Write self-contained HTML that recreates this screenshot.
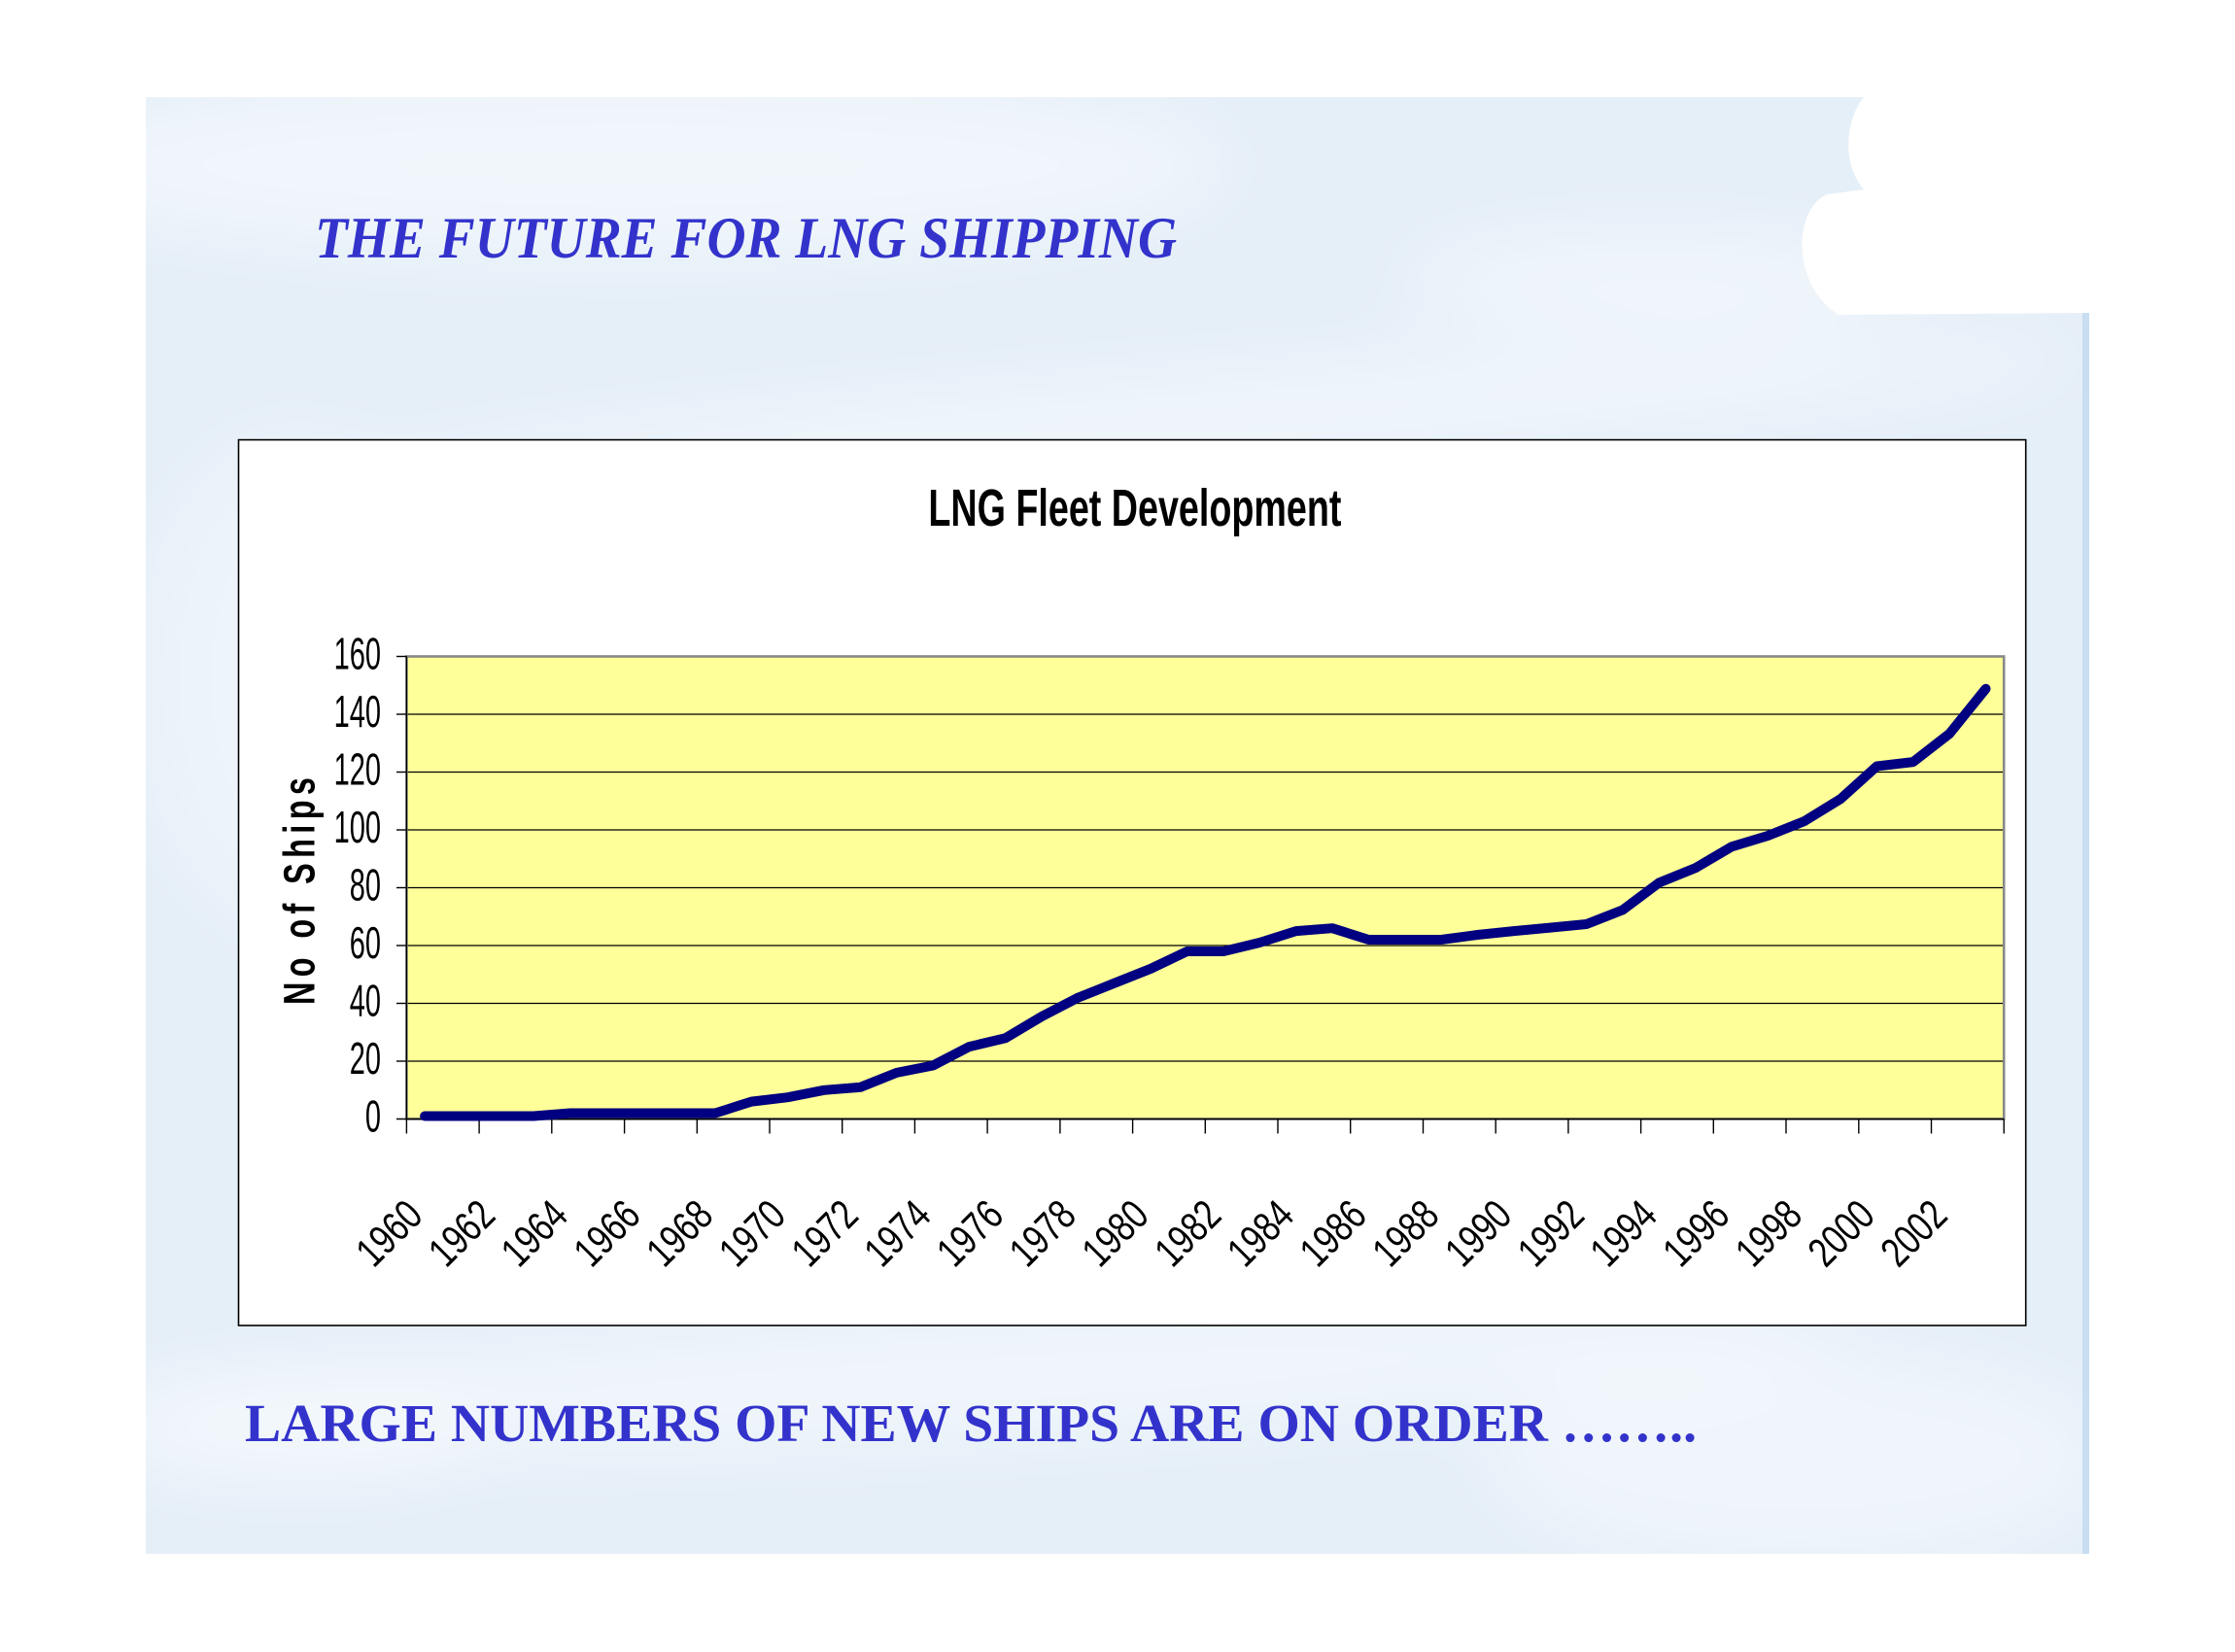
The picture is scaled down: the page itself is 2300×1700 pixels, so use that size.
<!DOCTYPE html>
<html>
<head>
<meta charset="utf-8">
<style>
html,body{margin:0;padding:0;background:#ffffff;}
svg{display:block;}
</style>
</head>
<body>
<svg xmlns="http://www.w3.org/2000/svg" width="2300" height="1700" viewBox="0 0 2300 1700">
  <defs>
    <filter id="blur40" x="-50%" y="-50%" width="200%" height="200%"><feGaussianBlur stdDeviation="40"/></filter>
    <clipPath id="bgclip">
      <path d="M150,100 L1918,100 C1898,125 1896,170 1918,195 L1880,200 C1846,215 1842,292 1892,324 L2150,322 L2150,1599 L150,1599 Z"/>
    </clipPath>
  </defs>

  <!-- page background -->
  <rect x="0" y="0" width="2300" height="1700" fill="#ffffff"/>

  <!-- slide textured background -->
  <g clip-path="url(#bgclip)">
    <rect x="150" y="100" width="2000" height="1500" fill="#e5eff8"/>
    <g filter="url(#blur40)" fill="#ffffff">
      <ellipse cx="650" cy="170" rx="620" ry="95" opacity="0.45"/>
      <ellipse cx="1250" cy="430" rx="900" ry="45" opacity="0.45" transform="rotate(-4 1250 430)"/>
      <ellipse cx="300" cy="700" rx="160" ry="260" opacity="0.3"/>
      <ellipse cx="1000" cy="1420" rx="900" ry="60" opacity="0.45" transform="rotate(-3 1000 1420)"/>
      <ellipse cx="1850" cy="1500" rx="320" ry="110" opacity="0.4"/>
      <ellipse cx="300" cy="1470" rx="200" ry="60" opacity="0.35"/>
      <ellipse cx="1700" cy="290" rx="260" ry="50" opacity="0.45"/>
    </g>
    <rect x="2143" y="322" width="7" height="1277" fill="#c9def1"/>
  </g>

  <!-- heading -->
  <text x="324" y="265" font-family="'Liberation Serif', serif" font-weight="bold" font-style="italic" font-size="60" fill="#3333cc" textLength="887" lengthAdjust="spacingAndGlyphs">THE FUTURE FOR LNG SHIPPING</text>

  <!-- chart box -->
  <rect x="245.5" y="452.6" width="1839.2" height="911.4" fill="#ffffff" stroke="#000000" stroke-width="1.6"/>

  <!-- chart title -->
  <text x="955.4" y="541" font-family="'Liberation Sans', Arial, sans-serif" font-weight="bold" font-size="54" fill="#000000" textLength="425" lengthAdjust="spacingAndGlyphs">LNG Fleet Development</text>

  <!-- plot area -->
  <rect x="418.4" y="675.5" width="1643.8" height="476" fill="#ffff99"/>

  <!-- gridlines -->
  <g stroke="#000000" stroke-width="1.3">
    <line x1="418.4" y1="735" x2="2062.2" y2="735"/>
    <line x1="418.4" y1="794.5" x2="2062.2" y2="794.5"/>
    <line x1="418.4" y1="854" x2="2062.2" y2="854"/>
    <line x1="418.4" y1="913.5" x2="2062.2" y2="913.5"/>
    <line x1="418.4" y1="973" x2="2062.2" y2="973"/>
    <line x1="418.4" y1="1032.5" x2="2062.2" y2="1032.5"/>
    <line x1="418.4" y1="1092" x2="2062.2" y2="1092"/>
  </g>

  <!-- plot border (gray) -->
  <rect x="418.4" y="675.5" width="1643.8" height="476" fill="none" stroke="#888888" stroke-width="2.6"/>

  <!-- axes -->
  <g stroke="#000000" stroke-width="1.4">
    <line x1="418.4" y1="675.5" x2="418.4" y2="1152"/>
    <line x1="408" y1="1151.5" x2="2062.2" y2="1151.5"/>
    <line x1="408" y1="675.5" x2="418.4" y2="675.5"/>
    <line x1="408" y1="735" x2="418.4" y2="735"/>
    <line x1="408" y1="794.5" x2="418.4" y2="794.5"/>
    <line x1="408" y1="854" x2="418.4" y2="854"/>
    <line x1="408" y1="913.5" x2="418.4" y2="913.5"/>
    <line x1="408" y1="973" x2="418.4" y2="973"/>
    <line x1="408" y1="1032.5" x2="418.4" y2="1032.5"/>
    <line x1="408" y1="1092" x2="418.4" y2="1092"/>
  </g>
  <!-- x ticks -->
  <g stroke="#000000" stroke-width="1.4">
    <line x1="418.4" y1="1151.5" x2="418.4" y2="1166.5"/>
    <line x1="493.1" y1="1151.5" x2="493.1" y2="1166.5"/>
    <line x1="567.8" y1="1151.5" x2="567.8" y2="1166.5"/>
    <line x1="642.6" y1="1151.5" x2="642.6" y2="1166.5"/>
    <line x1="717.3" y1="1151.5" x2="717.3" y2="1166.5"/>
    <line x1="792.0" y1="1151.5" x2="792.0" y2="1166.5"/>
    <line x1="866.7" y1="1151.5" x2="866.7" y2="1166.5"/>
    <line x1="941.4" y1="1151.5" x2="941.4" y2="1166.5"/>
    <line x1="1016.1" y1="1151.5" x2="1016.1" y2="1166.5"/>
    <line x1="1090.9" y1="1151.5" x2="1090.9" y2="1166.5"/>
    <line x1="1165.6" y1="1151.5" x2="1165.6" y2="1166.5"/>
    <line x1="1240.3" y1="1151.5" x2="1240.3" y2="1166.5"/>
    <line x1="1315.0" y1="1151.5" x2="1315.0" y2="1166.5"/>
    <line x1="1389.7" y1="1151.5" x2="1389.7" y2="1166.5"/>
    <line x1="1464.5" y1="1151.5" x2="1464.5" y2="1166.5"/>
    <line x1="1539.2" y1="1151.5" x2="1539.2" y2="1166.5"/>
    <line x1="1613.9" y1="1151.5" x2="1613.9" y2="1166.5"/>
    <line x1="1688.6" y1="1151.5" x2="1688.6" y2="1166.5"/>
    <line x1="1763.3" y1="1151.5" x2="1763.3" y2="1166.5"/>
    <line x1="1838.0" y1="1151.5" x2="1838.0" y2="1166.5"/>
    <line x1="1912.8" y1="1151.5" x2="1912.8" y2="1166.5"/>
    <line x1="1987.5" y1="1151.5" x2="1987.5" y2="1166.5"/>
    <line x1="2062.2" y1="1151.5" x2="2062.2" y2="1166.5"/>
  </g>

  <!-- data line -->
  <polyline fill="none" stroke="#000080" stroke-width="10" stroke-linejoin="round" stroke-linecap="round"
    points="437.1,1148.5 474.4,1148.5 511.8,1148.5 549.2,1148.5 586.5,1145.5 623.9,1145.5 661.2,1145.5 698.6,1145.5 736.0,1145.5 773.3,1133.6 810.7,1129.2 848.0,1121.8 885.4,1118.8 922.7,1103.9 960.1,1096.5 997.5,1077.1 1034.8,1068.2 1072.2,1045.9 1109.5,1026.6 1146.9,1011.7 1184.3,996.8 1221.6,979.0 1259.0,979.0 1296.3,970.0 1333.7,958.1 1371.1,955.2 1408.4,967.0 1445.8,967.0 1483.1,967.0 1520.5,962.0 1557.9,958.1 1595.2,954.6 1632.6,951.0 1669.9,936.4 1707.3,908.4 1744.6,893.3 1782.0,871.3 1819.4,860.0 1856.7,845.1 1894.1,822.2 1931.4,788.5 1968.8,784.1 2006.2,755.0 2043.5,708.8"/>

  <!-- y labels -->
  <g font-family="'Liberation Sans', Arial, sans-serif" font-size="46" fill="#000000" text-anchor="end">
    <text x="392" y="688.5" textLength="48.4" lengthAdjust="spacingAndGlyphs">160</text>
    <text x="392" y="748" textLength="48.4" lengthAdjust="spacingAndGlyphs">140</text>
    <text x="392" y="807.5" textLength="48.4" lengthAdjust="spacingAndGlyphs">120</text>
    <text x="392" y="867" textLength="48.4" lengthAdjust="spacingAndGlyphs">100</text>
    <text x="392" y="926.5" textLength="32.2" lengthAdjust="spacingAndGlyphs">80</text>
    <text x="392" y="986" textLength="32.2" lengthAdjust="spacingAndGlyphs">60</text>
    <text x="392" y="1045.5" textLength="32.2" lengthAdjust="spacingAndGlyphs">40</text>
    <text x="392" y="1105" textLength="32.2" lengthAdjust="spacingAndGlyphs">20</text>
    <text x="392" y="1164.5" textLength="16.1" lengthAdjust="spacingAndGlyphs">0</text>
  </g>

  <!-- y axis title -->
  <text transform="translate(323.5,1034) rotate(-90) scale(0.72,1)" font-family="'Liberation Sans', Arial, sans-serif" font-weight="bold" font-size="45" letter-spacing="7.5" fill="#000000">No of Ships</text>

  <!-- x labels -->
  <g font-family="'Liberation Sans', Arial, sans-serif" font-size="43" fill="#000000" text-anchor="end">
    <text transform="translate(437.1,1253) rotate(-45) scale(0.78,1)">1960</text>
    <text transform="translate(511.8,1253) rotate(-45) scale(0.78,1)">1962</text>
    <text transform="translate(586.5,1253) rotate(-45) scale(0.78,1)">1964</text>
    <text transform="translate(661.2,1253) rotate(-45) scale(0.78,1)">1966</text>
    <text transform="translate(736.0,1253) rotate(-45) scale(0.78,1)">1968</text>
    <text transform="translate(810.7,1253) rotate(-45) scale(0.78,1)">1970</text>
    <text transform="translate(885.4,1253) rotate(-45) scale(0.78,1)">1972</text>
    <text transform="translate(960.1,1253) rotate(-45) scale(0.78,1)">1974</text>
    <text transform="translate(1034.8,1253) rotate(-45) scale(0.78,1)">1976</text>
    <text transform="translate(1109.5,1253) rotate(-45) scale(0.78,1)">1978</text>
    <text transform="translate(1184.3,1253) rotate(-45) scale(0.78,1)">1980</text>
    <text transform="translate(1259.0,1253) rotate(-45) scale(0.78,1)">1982</text>
    <text transform="translate(1333.7,1253) rotate(-45) scale(0.78,1)">1984</text>
    <text transform="translate(1408.4,1253) rotate(-45) scale(0.78,1)">1986</text>
    <text transform="translate(1483.1,1253) rotate(-45) scale(0.78,1)">1988</text>
    <text transform="translate(1557.9,1253) rotate(-45) scale(0.78,1)">1990</text>
    <text transform="translate(1632.6,1253) rotate(-45) scale(0.78,1)">1992</text>
    <text transform="translate(1707.3,1253) rotate(-45) scale(0.78,1)">1994</text>
    <text transform="translate(1782.0,1253) rotate(-45) scale(0.78,1)">1996</text>
    <text transform="translate(1856.7,1253) rotate(-45) scale(0.78,1)">1998</text>
    <text transform="translate(1931.4,1253) rotate(-45) scale(0.78,1)">2000</text>
    <text transform="translate(2006.2,1253) rotate(-45) scale(0.78,1)">2002</text>
  </g>

  <!-- bottom text -->
  <text x="252" y="1483" font-family="'Liberation Serif', serif" font-weight="bold" font-size="55.4" fill="#3333cc" textLength="1494" lengthAdjust="spacingAndGlyphs">LARGE NUMBERS OF NEW SHIPS ARE ON ORDER ……..</text>
</svg>
</body>
</html>
